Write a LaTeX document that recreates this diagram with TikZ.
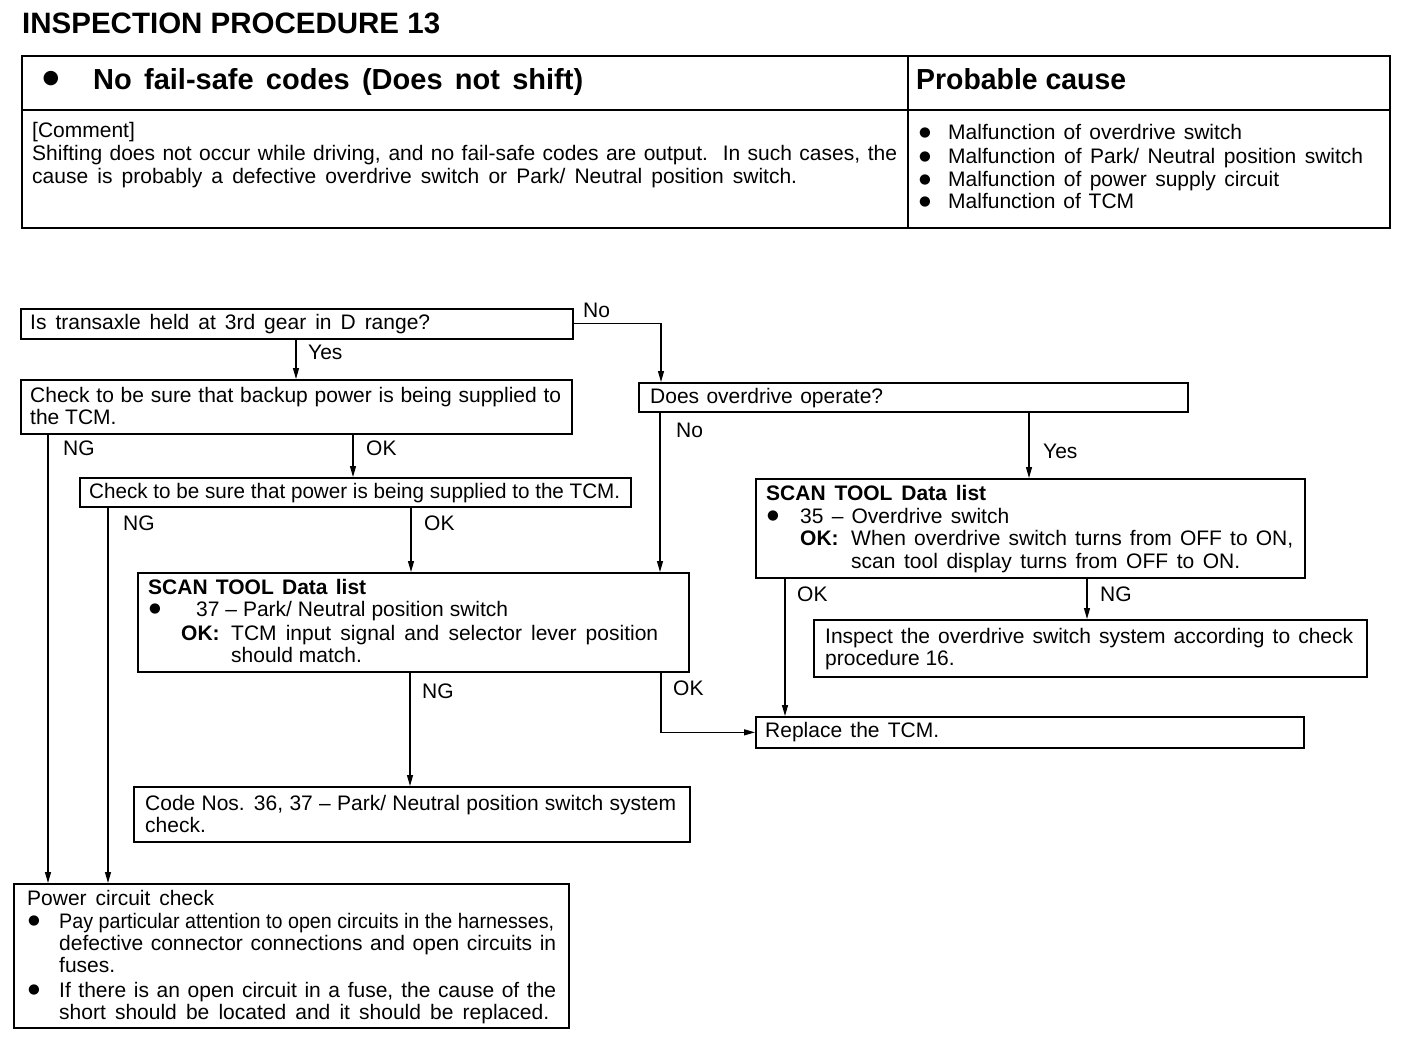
\documentclass[tikz,border=0pt]{standalone}
\usepackage{fontspec}
\setmainfont{Liberation Sans}
\newfontfamily\dejavu{DejaVu Sans}
\usetikzlibrary{arrows.meta}
\newsavebox\flbox
\newlength\flw
\newlength\flnat
\newcommand\fl[2]{\sbox\flbox{#2}\setlength\flw{#1pt}\setlength\flnat{\wd\flbox}%
  \ifdim\flnat>\flw\pgfmathsetmacro\flsc{\flw/\flnat}\scalebox{\flsc}[1]{\usebox\flbox}%
  \else\makebox[\flw][s]{#2}\fi}
\tikzset{
  bx/.style={draw, line width=1.7pt, inner sep=0pt, anchor=north west},
  tx/.style={anchor=base west, inner sep=0pt, font=\fontsize{21}{23}\selectfont},
  tb/.style={anchor=base west, inner sep=0pt, font=\fontsize{21}{23}\selectfont\bfseries},
  bul/.style={inner sep=0pt, anchor=center, font=\dejavu\fontsize{13.5}{13.5}\selectfont},
  arr/.style={line width=1.2pt, -{Triangle[length=11pt,width=6pt]}},
}
\begin{document}
\begin{tikzpicture}[x=1pt,y=-1pt]
\useasboundingbox[fill=white] (0,0) rectangle (1408,1042);
% title
\node[anchor=base west, inner sep=0pt, font=\fontsize{29.5}{30}\selectfont\bfseries] (title) at (22,33) {\fl{418}{INSPECTION PROCEDURE 13}};
% table
\node[draw, line width=2pt, inner sep=0pt, anchor=north west, minimum width=1368pt, minimum height=172pt] (tab) at (21,55) {};
\coordinate (trow) at (0,110);
\coordinate (tcol) at (908,0);
\draw[line width=2pt] (tab.west |- trow) -- (tab.east |- trow);
\draw[line width=2pt] (tab.north -| tcol) -- (tab.south -| tcol);
\node[bul, font=\dejavu\fontsize{19}{19}\selectfont] (hbul) at (51,79) {●};
\node[anchor=base west, inner sep=0pt, font=\fontsize{29}{30}\selectfont\bfseries] (head) at (93,89) {\fl{490}{No fail-safe codes (Does not shift)}};
\node[anchor=base west, inner sep=0pt, font=\fontsize{29}{30}\selectfont\bfseries] (pc) at (916,89) {\fl{210}{Probable cause}};
\node[tx] (c0) at (32,137) {[Comment]};
\node[tx] (c1) at (32,160) {\fl{865}{Shifting does not occur while driving, and no fail-safe codes are output.\ \ In such cases, the}};
\node[tx] (c2) at (32,183) {\fl{765}{cause is probably a defective overdrive switch or Park/ Neutral position switch.}};
\node[bul] (pb1) at (925,133) {●};
\node[bul] (pb2) at (925,157) {●};
\node[bul] (pb3) at (925,180) {●};
\node[bul] (pb4) at (925,202) {●};
\node[tx] (p1) at (948,139) {\fl{294}{Malfunction of overdrive switch}};
\node[tx] (p2) at (948,163) {\fl{415}{Malfunction of Park/ Neutral position switch}};
\node[tx] (p3) at (948,186) {\fl{331}{Malfunction of power supply circuit}};
\node[tx] (p4) at (948,208) {\fl{186}{Malfunction of TCM}};
% boxes
\node[bx, minimum width=552pt, minimum height=30pt] (b1) at (20,308) {};
\node[bx, minimum width=551pt, minimum height=54pt] (b2) at (20,379) {};
\node[bx, minimum width=549pt, minimum height=29pt] (bod) at (638,382) {};
\node[bx, minimum width=551pt, minimum height=29pt] (b3) at (79,477) {};
\node[bx, minimum width=551pt, minimum height=99pt] (b4) at (137,572) {};
\node[bx, minimum width=549pt, minimum height=99pt] (b5) at (755,478) {};
\node[bx, minimum width=553pt, minimum height=57pt] (b6) at (813,619) {};
\node[bx, minimum width=548pt, minimum height=31pt] (brep) at (755,716) {};
\node[bx, minimum width=556pt, minimum height=55pt] (b7) at (133,786) {};
\node[bx, minimum width=555pt, minimum height=144pt] (bpow) at (13,883) {};
% box texts
\node[tx] (t1) at (30,329) {\fl{400}{Is transaxle held at 3rd gear in D range?}};
\node[tx] (t2a) at (30,402) {\fl{531}{Check to be sure that backup power is being supplied to}};
\node[tx] (t2b) at (30,424) {the TCM.};
\node[tx] (tod) at (650,403) {\fl{233}{Does overdrive operate?}};
\node[tx] (t3) at (89,498) {\fl{531}{Check to be sure that power is being supplied to the TCM.}};
\node[tb] (t4a) at (148,594) {\fl{218}{SCAN TOOL Data list}};
\node[bul] (t4bul) at (155,609) {●};
\node[tx] (t4b) at (196,616) {\fl{312}{37 -- Park/ Neutral position switch}};
\node[tb] (t4ok) at (181,640) {OK:};
\node[tx] (t4c) at (231,640) {\fl{427}{TCM input signal and selector lever position}};
\node[tx] (t4d) at (231,662) {should match.};
\node[tb] (t5a) at (766,500) {\fl{220}{SCAN TOOL Data list}};
\node[bul] (t5bul) at (773,516) {●};
\node[tx] (t5b) at (800,523) {\fl{209}{35 -- Overdrive switch}};
\node[tb] (t5ok) at (800,545) {OK:};
\node[tx] (t5c) at (851,545) {\fl{442}{When overdrive switch turns from OFF to ON,}};
\node[tx] (t5d) at (851,568) {\fl{389}{scan tool display turns from OFF to ON.}};
\node[tx] (t6a) at (825,643) {\fl{528}{Inspect the overdrive switch system according to check}};
\node[tx] (t6b) at (825,665) {procedure 16.};
\node[tx] (trep) at (765,737) {\fl{174}{Replace the TCM.}};
\node[tx] (t7a) at (145,810) {\fl{531}{Code Nos. 36, 37 -- Park/ Neutral position switch system}};
\node[tx] (t7b) at (145,832) {check.};
\node[tx] (tpa) at (27,905) {\fl{187}{Power circuit check}};
\node[bul] (tpbul1) at (34,921) {●};
\node[tx] (tpb) at (59,928) {\fl{495}{Pay particular attention to open circuits in the harnesses,}};
\node[tx] (tpc) at (59,950) {\fl{497}{defective connector connections and open circuits in}};
\node[tx] (tpd) at (59,972) {fuses.};
\node[bul] (tpbul2) at (34,990) {●};
\node[tx] (tpe) at (59,997) {\fl{497}{If there is an open circuit in a fuse, the cause of the}};
\node[tx] (tpf) at (59,1019) {\fl{490}{short should be located and it should be replaced.}};
% connector columns
\coordinate (c296) at (296,0);
\coordinate (c661) at (661,0);
\coordinate (c48) at (48,0);
\coordinate (c353) at (353,0);
\coordinate (c108) at (108,0);
\coordinate (c411) at (411,0);
\coordinate (c660) at (660,0);
\coordinate (c1029) at (1029,0);
\coordinate (c785) at (785,0);
\coordinate (c1087) at (1087,0);
\coordinate (c410) at (410,0);
% connectors
\draw[arr] (b1.south -| c296) -- (b2.north -| c296);
\draw[arr] (b1.east) -| (bod.north -| c661);
\draw[arr] (b2.south -| c48) -- (bpow.north -| c48);
\draw[arr] (b2.south -| c353) -- (b3.north -| c353);
\draw[arr] (b3.south -| c108) -- (bpow.north -| c108);
\draw[arr] (b3.south -| c411) -- (b4.north -| c411);
\draw[arr] (bod.south -| c660) -- (b4.north -| c660);
\draw[arr] (bod.south -| c1029) -- (b5.north -| c1029);
\draw[arr] (b5.south -| c785) -- (brep.north -| c785);
\draw[arr] (b5.south -| c1087) -- (b6.north -| c1087);
\draw[arr] (b4.south -| c410) -- (b7.north -| c410);
\draw[arr] (b4.south -| c661) |- (brep.west);
% labels
\node[tx] (lyes1) at (308,359) {Yes};
\node[tx] (lno1) at (583,317) {No};
\node[tx] (lng1) at (63,455) {NG};
\node[tx] (lok1) at (366,455) {OK};
\node[tx] (lng2) at (123,530) {NG};
\node[tx] (lok2) at (424,530) {OK};
\node[tx] (lno2) at (676,437) {No};
\node[tx] (lyes2) at (1043,458) {Yes};
\node[tx] (lok3) at (797,601) {OK};
\node[tx] (lng3) at (1100,601) {NG};
\node[tx] (lng4) at (422,698) {NG};
\node[tx] (lok4) at (673,695) {OK};
\end{tikzpicture}
\end{document}
